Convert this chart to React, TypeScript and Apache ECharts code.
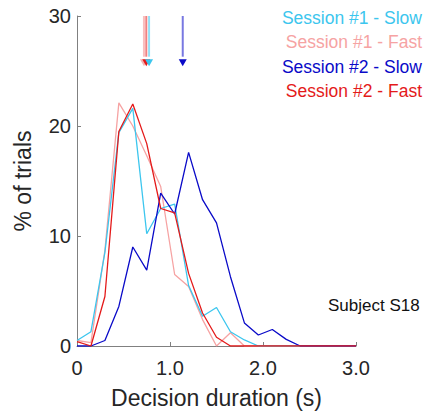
import React, { useEffect, useRef } from "react";
import * as echarts from "echarts";

const bins = [0, 0.15, 0.3, 0.45, 0.6, 0.75, 0.9, 1.05, 1.2, 1.35, 1.5, 1.65, 1.8, 1.95, 2.1, 2.25, 2.4, 2.55, 2.7, 2.85, 3.0];

const s1Slow = [0.5, 1.3, 8.5, 19.4, 21.6, 10.2, 12.5, 12.9, 5.5, 2.7, 3.5, 1.3, 0.55, 0, 0, 0, 0, 0, 0, 0, 0];
const s1Fast = [0.5, 0.3, 8.7, 22.1, 20.0, 17.3, 14.5, 6.5, 5.4, 2.4, 0, 1.2, 0, 0, 0, 0, 0, 0, 0, 0, 0];
const s2Slow = [0, 0, 0.5, 3.6, 9.0, 6.9, 13.9, 12.0, 17.6, 13.3, 11.2, 6.3, 2.1, 1.0, 1.5, 0.6, 0, 0, 0, 0, 0];
const s2Fast = [0.4, 0, 4.5, 19.5, 22.0, 18.4, 12.5, 12.1, 6.6, 3.0, 0.8, 0, 0, 0, 0, 0, 0, 0, 0, 0, 0];

const seriesNames = ["Session #1 - Slow", "Session #1 - Fast", "Session #2 - Slow", "Session #2 - Fast"];
const seriesColors = ["#3cc6ee", "#f6a3a3", "#0a0ac8", "#e41a1a"];
const seriesValues = [s1Slow, s1Fast, s2Slow, s2Fast];
// mean decision duration marker (arrow) per series
const arrowX = [0.775, 0.72, 1.137, 0.745];
const arrowTop = 30;
const arrowShaftEnd = 26.3;
const arrowHeadCenter = 25.75;

const yTicks = [0, 10, 20, 30];
const xTicks = [0, 1, 2, 3];
const subjectLabel = "Subject S18";

const FONT = "Liberation Sans, Arial, sans-serif";
const TEXT = "#262626";
const AXIS = "#808080";

export default function App() {
  const ref = useRef<HTMLDivElement>(null);
  useEffect(() => {
    if (!ref.current) return;
    const chart = echarts.init(ref.current, null, { renderer: "svg" });
    const drawOrder = [1, 0, 2, 3];
    const lineSeries = drawOrder.map((i) => ({
      type: "line",
      name: seriesNames[i],
      data: bins.map((b, k) => [b, seriesValues[i][k]]),
      showSymbol: false,
      symbol: "none",
      lineStyle: { color: seriesColors[i], width: 1.3 },
      itemStyle: { color: seriesColors[i] },
      z: 2,
    }));
    const shaftSeries = [1, 3, 0, 2].map((i) => ({
      type: "line",
      data: [
        [arrowX[i], arrowTop],
        [arrowX[i], arrowShaftEnd],
      ],
      symbol: "none",
      lineStyle: { color: seriesColors[i], width: 2, opacity: i === 1 ? 0.7 : 0.55 },
      z: 3,
    }));
    const headSeries = [1, 3, 0, 2].map((i) => ({
      type: "scatter",
      data: [[arrowX[i], arrowHeadCenter]],
      symbol: "triangle",
      symbolRotate: 180,
      symbolSize: [8, 7],
      itemStyle: { color: seriesColors[i], opacity: i === 1 ? 0.85 : 1 },
      z: 4,
    }));
    chart.setOption({
      animation: false,
      grid: { left: 77, right: 72, top: 16, bottom: 70, containLabel: false, outerBoundsMode: "none" },
      xAxis: {
        type: "value",
        min: xTicks[0],
        max: xTicks[xTicks.length - 1],
        interval: 1,
        name: "Decision duration (s)",
        nameLocation: "middle",
        nameGap: 40,
        nameTextStyle: { fontSize: 23, color: TEXT, fontFamily: FONT },
        axisLine: { show: true, onZero: false, lineStyle: { color: AXIS, width: 1 } },
        axisTick: { show: true, inside: true, length: 4, lineStyle: { color: AXIS } },
        splitLine: { show: false },
        axisLabel: {
          fontSize: 20,
          color: TEXT,
          fontFamily: FONT,
          margin: 12,
          formatter: (v: number) => (v === 0 ? "0" : v.toFixed(1)),
        },
      },
      yAxis: {
        type: "value",
        min: yTicks[0],
        max: yTicks[yTicks.length - 1],
        interval: 10,
        name: "% of trials",
        nameLocation: "middle",
        nameGap: 43,
        nameTextStyle: { fontSize: 23, color: TEXT, fontFamily: FONT },
        axisLine: { show: true, onZero: false, lineStyle: { color: AXIS, width: 1 } },
        axisTick: { show: true, inside: true, length: 4, lineStyle: { color: AXIS } },
        splitLine: { show: false },
        axisLabel: { fontSize: 20, color: TEXT, fontFamily: FONT, margin: 6 },
      },
      series: [...lineSeries, ...shaftSeries, ...headSeries],
      graphic: [
        ...seriesNames.map((n, i) => ({
          type: "text",
          x: 422,
          y: 18 + i * 24.3,
          style: {
            text: n,
            fill: seriesColors[i],
            fontSize: 17.5,
            fontFamily: FONT,
            align: "right",
            verticalAlign: "middle",
          },
        })),
        {
          type: "text",
          x: 328,
          y: 305,
          style: {
            text: subjectLabel,
            fill: "#111111",
            fontSize: 17,
            fontFamily: FONT,
            align: "left",
            verticalAlign: "middle",
          },
        },
      ],
    });
    return () => chart.dispose();
  }, []);
  return <div ref={ref} style={{ position: "absolute", left: 0, top: 0, width: 428, height: 416 }} />;
}
